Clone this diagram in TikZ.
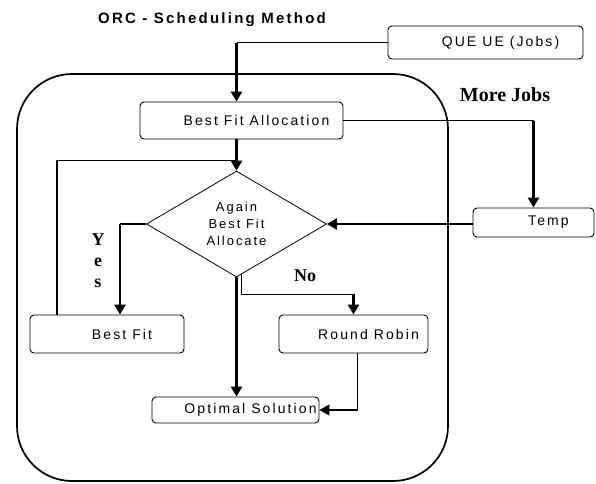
\documentclass[tikz,border=0pt]{standalone}
\usepackage{fontspec}
\usetikzlibrary{shapes.geometric, arrows.meta, positioning, calc}
\newfontfamily\boxfont[LetterSpace=15]{Liberation Sans}
\newfontfamily\tagfont{Liberation Serif}

\begin{document}
\begin{tikzpicture}[x=1pt, y=-1pt,
    jobbox/.style={draw, rounded corners=4pt, line width=0.9pt, inner sep=0pt,
      font=\boxfont\fontsize{14}{17}\selectfont, execute at begin node={\hspace*{30pt}}},
    decision/.style={draw, diamond, line width=0.8pt, inner sep=0pt,
      minimum width=180pt, minimum height=106pt, align=center,
      font=\boxfont\fontsize{13}{17}\selectfont},
    tag/.style={font=\tagfont\bfseries\fontsize{18}{21}\selectfont},
    link/.style={line width=1.2pt},
    flow/.style={line width=2.6pt, -{Triangle[width=11pt,length=10pt]}},
    thinflow/.style={line width=1.2pt, -{Triangle[width=11pt,length=10pt]}}]
  \useasboundingbox (0,0) rectangle (596,483);

  \node (title) at (212,23.5) [anchor=base, font=\boxfont\bfseries\fontsize{15}{18}\selectfont] {ORC - Scheduling Method};

  % scheduler frame
  \draw[line width=1.7pt, rounded corners=55pt] (17,74) rectangle (448,481);

  \node (queue) at (485.5,42.5) [jobbox, minimum width=195pt, minimum height=33pt] {QUE UE (Jobs)};
  \node (bfa) at (241.5,120.5) [jobbox, minimum width=203pt, minimum height=37pt] {Best Fit Allocation};
  \node (dia) at (236.5,224) [decision] {Again\\Best Fit\\Allocate};
  \node (temp) at (533.5,222.5) [jobbox, minimum width=121pt, minimum height=29pt] {Temp};
  \node (bestfit) at (107,334) [jobbox, minimum width=154pt, minimum height=38pt] {Best Fit};
  \node (rr) at (353.5,334) [jobbox, minimum width=149pt, minimum height=38pt] {Round Robin};
  \node (opt) at (235.5,410) [jobbox, minimum width=167pt, minimum height=26pt] {Optimal Solution};

  \node (more) at (505,95) [tag, font=\tagfont\bfseries\fontsize{20}{24}\selectfont] {More Jobs};
  \node (no) at (305,276) [tag] {No};
  \node (yes) at (98,260.5) [tag, align=center] {Y\\e\\s};

  % queue into allocation
  \coordinate (qbend) at (queue.west -| dia.north);
  \draw[link] (queue.west) -- (qbend);
  \draw[flow] (qbend) -- (qbend |- bfa.north);
  \draw[flow] (bfa.south -| dia.north) -- (dia.north);

  % more jobs go to temp and back
  \coordinate (tbend) at (bfa.east -| temp.north);
  \draw[link] (bfa.east) -- (tbend);
  \draw[flow] (tbend) -- (temp.north);
  \draw[flow] (temp.west |- dia.east) -- (dia.east);

  % yes branch and loop back
  \coordinate (ybend) at ([xshift=13pt]bestfit.north |- dia.west);
  \draw[line width=2pt] (dia.west) -- (ybend);
  \draw[flow] (ybend) -- ([xshift=13pt]bestfit.north);
  \coordinate (loop) at ($(dia.north)+(0,-10)$);
  \draw[link] ([xshift=-50pt]bestfit.north) |- (loop);

  % no branch
  \draw[flow] (dia.south) -- (dia.south |- opt.north);
  \coordinate (nstart) at ($(dia.south)+(5,-3)$);
  \coordinate (rrbend) at ($(dia.south)+(5,17)$);
  \draw[link] (nstart) -- (rrbend) -- (rrbend -| rr.north);
  \draw[flow] (rrbend -| rr.north) -- (rr.north);
  \draw[thinflow] ([xshift=4pt]rr.south) |- (opt.east);
\end{tikzpicture}
\end{document}
